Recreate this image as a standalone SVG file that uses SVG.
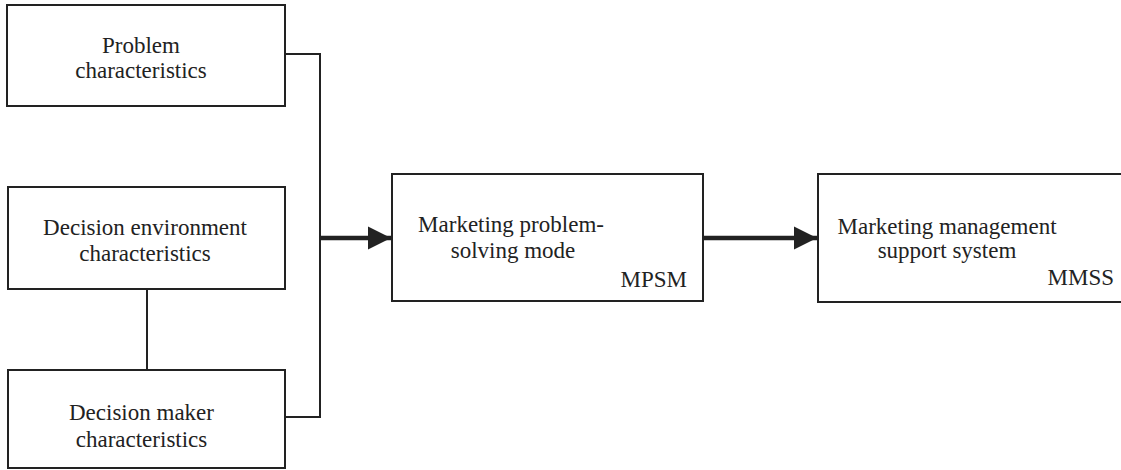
<svg xmlns="http://www.w3.org/2000/svg" width="1121" height="470" viewBox="0 0 1121 470">
<style>
.box{fill:#fff;stroke:#222;stroke-width:2}
.t{font-family:"Liberation Serif","Times New Roman",serif;font-size:23px;fill:#222}
.c{text-anchor:middle}
.r{text-anchor:end}
.ln{fill:none;stroke:#222;stroke-width:2}
.ar{fill:none;stroke:#222;stroke-width:4.5}
</style>
<defs>
<marker id="ah" markerUnits="userSpaceOnUse" markerWidth="24" markerHeight="24" viewBox="0 0 24 24" refX="23" refY="12" orient="auto">
<polygon points="0,0.5 23,12 0,23.5" fill="#222"/>
</marker>
</defs>
<rect width="1121" height="470" fill="#fff"/>
<g id="problem">
<rect class="box" x="7" y="5" width="278" height="101"/>
<text class="t c" x="141" y="53">Problem</text>
<text class="t c" x="141" y="78">characteristics</text>
</g>
<g id="environment">
<rect class="box" x="8" y="187" width="277" height="102"/>
<text class="t c" x="145" y="235">Decision environment</text>
<text class="t c" x="145" y="261">characteristics</text>
</g>
<g id="maker">
<rect class="box" x="8" y="370" width="277" height="98"/>
<text class="t c" x="141.5" y="420">Decision maker</text>
<text class="t c" x="141.5" y="447">characteristics</text>
</g>
<g id="mpsm">
<rect class="box" x="392" y="174" width="311" height="127"/>
<text class="t c" x="511" y="232">Marketing problem-</text>
<text class="t c" x="513" y="258">solving mode</text>
<text class="t r" x="687" y="287">MPSM</text>
</g>
<g id="mmss">
<rect class="box" x="818" y="174" width="320" height="128"/>
<text class="t c" x="947" y="234">Marketing management</text>
<text class="t c" x="947" y="258">support system</text>
<text class="t r" x="1114" y="285">MMSS</text>
</g>
<g id="connectors">
<path class="ln" d="M285,54 H320 V417 H285"/>
<path class="ln" d="M147,289 V370"/>
<path class="ar" d="M320,238 H391" marker-end="url(#ah)"/>
<path class="ar" d="M703,238 H817" marker-end="url(#ah)"/>
</g>
</svg>
